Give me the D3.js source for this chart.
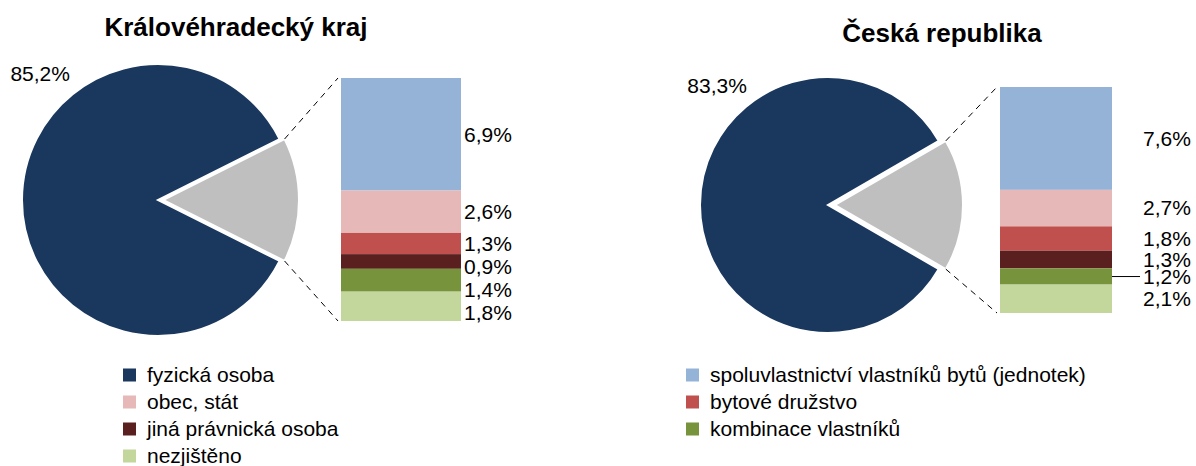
<!DOCTYPE html>
<html>
<head>
<meta charset="utf-8">
<script src="https://cdn.jsdelivr.net/npm/d3@7"></script>
<style>
  body { margin: 0; background: #fff; }
  svg text { font-family: "Liberation Sans", Arial, sans-serif; fill: #000; }
</style>
</head>
<body>
<svg id="Canvas" width="1196" height="466"></svg>
<script>
// categories in legend order (first one is the pie, the rest go to the bar)
var categories = [
  "fyzická osoba",
  "spoluvlastnictví vlastníků bytů (jednotek)",
  "obec, stát",
  "bytové družstvo",
  "jiná právnická osoba",
  "kombinace vlastníků",
  "nezjištěno"
];
var colors = ["#1a375e", "#95b3d7", "#e6b9b8", "#c0504d", "#5a2020", "#77933c", "#c3d69b"];
var otherColor = "#bfbfbf";

var titles = ["Královéhradecký kraj", "Česká republika"];
var krajValues = [85.2, 6.9, 2.6, 1.3, 0.9, 1.4, 1.8];
var crValues = [83.3, 7.6, 2.7, 1.8, 1.3, 1.2, 2.1];

var fmt = d3.formatLocale({decimal: ",", thousands: " ", grouping: [3], currency: ["", ""]}).format(".1f");

var svg = d3.select("#Canvas");

/*
 * layout of each panel
 */
var panels = [
  {title: titles[0], values: krajValues, cx: 158, cy: 200, r: 136, explode: 5,
   barX: 341, barW: 120, barTop: 78, barBottom: 321, labelX: 464, labelGap: 23, leader: -1,
   titleX: 236, titleY: 36},
  {title: titles[1], values: crValues, cx: 828, cy: 205, r: 128, explode: 7,
   barX: 1000, barW: 112, barTop: 87, barBottom: 313, labelX: 1143, labelGap: 17, leader: 4,
   titleX: 942, titleY: 42}
];

panels.forEach(DrawPanel);
DrawLegend();

function DrawPanel(p){
  var g = svg.append("g");
  var main = p.values[0];
  var rest = p.values.slice(1);
  var other = 100 - main;

  g.append("text")
    .attr("x", p.titleX).attr("y", p.titleY)
    .attr("text-anchor", "middle")
    .style("font-size", "26px").style("font-weight", "bold")
    .text(p.title);

  // pie: grey slice centred at 3 o'clock
  var otherAngle = other / 100 * 2 * Math.PI;
  var start = Math.PI / 2 - otherAngle / 2;
  var pie = d3.pie().sort(null).startAngle(start).endAngle(start + 2 * Math.PI);
  var arcs = pie([other, main]);
  var arc = d3.arc().innerRadius(0).outerRadius(p.r);

  g.selectAll(".slice").data(arcs).enter()
    .append("path").classed("slice", true)
    .attr("transform", function(d, i){
      return "translate(" + (p.cx + (i === 0 ? p.explode : 0)) + "," + p.cy + ")";
    })
    .attr("d", arc)
    .style("fill", function(d, i){ return i === 0 ? otherColor : colors[0]; })
    .style("stroke", "#fff").style("stroke-width", 2);

  // main label
  var la = -43 * Math.PI / 180, lr = p.r * 1.27;
  g.append("text")
    .attr("x", p.cx + lr * Math.sin(la))
    .attr("y", p.cy - lr * Math.cos(la))
    .attr("dy", "0.35em")
    .attr("text-anchor", "middle")
    .style("font-size", "21px")
    .text(fmt(main) + "%");

  // stacked bar
  var total = d3.sum(rest);
  var y = d3.scaleLinear().domain([0, total]).range([p.barTop, p.barBottom]);
  var stacked = [], acc = 0;
  rest.forEach(function(v, i){
    stacked.push({v: v, y0: acc, y1: acc + v, color: colors[i + 1]});
    acc += v;
  });

  g.selectAll(".seg").data(stacked).enter()
    .append("rect").classed("seg", true)
    .attr("x", p.barX).attr("width", p.barW)
    .attr("y", function(d){ return y(d.y0); })
    .attr("height", function(d){ return y(d.y1) - y(d.y0); })
    .style("fill", function(d){ return d.color; });

  // connector lines from the grey slice to the bar
  var a0 = arcs[0].startAngle, a1 = arcs[0].endAngle;
  var ox = p.cx + p.explode;
  [[a0, p.barTop], [a1, p.barBottom]].forEach(function(c){
    g.append("line")
      .attr("x1", ox + p.r * Math.sin(c[0]))
      .attr("y1", p.cy - p.r * Math.cos(c[0]))
      .attr("x2", p.barX - 3).attr("y2", c[1])
      .style("stroke", "#000").style("stroke-width", 1)
      .style("stroke-dasharray", "6,5");
  });

  // value labels, pushed down when they collide
  var prev = -Infinity;
  stacked.forEach(function(d){
    d.ly = Math.max(y((d.y0 + d.y1) / 2), prev + p.labelGap);
    prev = d.ly;
  });

  g.selectAll(".val").data(stacked).enter()
    .append("text").classed("val", true)
    .attr("x", p.labelX)
    .attr("y", function(d){ return d.ly; })
    .attr("dy", "0.35em")
    .style("font-size", "21px")
    .text(function(d){ return fmt(d.v) + "%"; });

  if(p.leader >= 0){
    var d = stacked[p.leader];
    g.append("line")
      .attr("x1", p.barX + p.barW).attr("x2", p.labelX - 3)
      .attr("y1", d.ly).attr("y2", d.ly)
      .style("stroke", "#000").style("stroke-width", 1);
  }
}

/*
 * Legend in two columns
 */
function DrawLegend(){
  var colX = [123, 686], rowY = 375, rowH = 27;
  var items = svg.selectAll(".legend").data(categories).enter()
    .append("g").classed("legend", true)
    .attr("transform", function(d, i){
      return "translate(" + colX[i % 2] + "," + (rowY + Math.floor(i / 2) * rowH) + ")";
    });
  items.append("rect")
    .attr("x", 0).attr("y", -6.5).attr("width", 13).attr("height", 13)
    .style("fill", function(d, i){ return colors[i]; });
  items.append("text")
    .attr("x", 24).attr("dy", "0.35em")
    .style("font-size", "21px")
    .text(function(d){ return d; });
}
</script>
</body>
</html>
